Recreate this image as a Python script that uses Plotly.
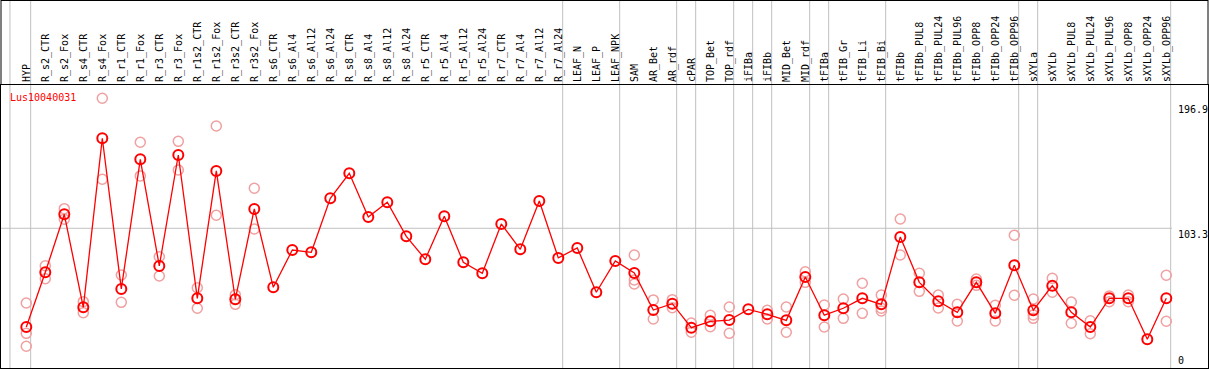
import plotly.graph_objects as go

categories = [
    "HYP", "R_s2_CTR", "R_s2_Fox", "R_s4_CTR", "R_s4_Fox", "R_r1_CTR", "R_r1_Fox",
    "R_r3_CTR", "R_r3_Fox", "R_r1s2_CTR", "R_r1s2_Fox", "R_r3s2_CTR", "R_r3s2_Fox",
    "R_s6_CTR", "R_s6_Al4", "R_s6_Al12", "R_s6_Al24", "R_s8_CTR", "R_s8_Al4",
    "R_s8_Al12", "R_s8_Al24", "R_r5_CTR", "R_r5_Al4", "R_r5_Al12", "R_r5_Al24",
    "R_r7_CTR", "R_r7_Al4", "R_r7_Al12", "R_r7_Al24", "LEAF_N", "LEAF_P", "LEAF_NPK",
    "SAM", "AR_Bet", "AR_rdf", "cPAR", "TOP_Bet", "TOP_rdf", "iFIBa", "iFIBb",
    "MID_Bet", "MID_rdf", "tFIBa", "tFIB_Gr", "tFIB_Li", "tFIB_Bi", "tFIBb",
    "tFIBb_PUL8", "tFIBb_PUL24", "tFIBb_PUL96", "tFIBb_OPP8", "tFIBb_OPP24",
    "tFIBb_OPP96", "sXYLa", "sXYLb", "sXYLb_PUL8", "sXYLb_PUL24", "sXYLb_PUL96",
    "sXYLb_OPP8", "sXYLb_OPP24", "sXYLb_OPP96",
]

mean_values = [
    29.7, 70.5, 113.7, 44.4, 170.4, 58.1, 154.7, 75.2, 157.9, 51.1, 146.0, 50.4, 117.7,
    59.3, 87.1, 85.4, 125.6, 144.3, 111.7, 122.7, 97.3, 80.2, 112.2, 77.9, 69.8,
    106.5, 87.6, 123.6, 81.2, 88.6, 55.6, 78.9,
    70.0, 42.4, 47.1, 29.2, 34.0, 34.9, 42.9, 39.2, 34.7, 67.0, 38.5, 43.7, 51.1, 46.6,
    96.8, 63.0, 48.9, 40.7, 63.0, 39.9, 75.7, 42.2, 60.5, 40.7, 29.7, 51.1, 51.1, 20.6, 51.1,
]

replicates = [
    [47.6, 25.0, 15.4], [75.4, 65.7], [117.9, 110.0], [48.6, 40.4], [200.2, 139.8],
    [68.5, 48.1], [167.4, 142.3], [82.1, 67.7], [168.1, 146.7], [59.0, 43.7],
    [179.5, 113.0], [53.8, 46.6], [133.1, 102.8],
    [], [], [], [], [], [], [], [], [], [], [], [], [], [], [], [], [], [], [],
    [83.4, 64.8, 61.8], [49.9, 35.7], [50.1, 44.1], [32.7, 25.8], [38.5, 30.0],
    [44.6, 25.0], [], [42.2, 35.7], [44.6, 25.8], [70.9, 63.0], [46.1, 29.7],
    [50.6, 36.2], [62.3, 39.9], [53.6, 43.7, 41.7], [110.2, 83.4], [69.8, 56.3],
    [53.6, 43.9], [46.6, 34.2], [65.5, 60.8], [45.9, 34.2], [98.1, 53.4],
    [50.6, 38.7, 36.2], [66.0, 55.6], [48.4, 32.5], [34.4, 24.7], [52.8, 48.6],
    [53.6, 48.6], [], [68.3, 34.0],
]

series_name = "Lus10040031"
right_labels = [196.9, 103.3, 0]
group_ends = ["HYP", "R_r7_Al24", "LEAF_NPK", "AR_rdf", "cPAR", "TOP_rdf", "iFIBa",
              "iFIBb", "MID_rdf", "tFIBa", "tFIB_Bi", "tFIBb_OPP96", "sXYLa", "sXYLb_OPP96"]

W, H = 1209, 370
ML, MR, MT, MB = 1, 1, 85, 2
plot_h = H - MT - MB
plot_w = W - ML - MR

rx, ry = [], []
for c, reps in zip(categories, replicates):
    for r in reps:
        rx.append(c)
        ry.append(r)

fig = go.Figure()
fig.add_trace(go.Scatter(
    x=rx, y=ry, mode="markers", hoverinfo="skip",
    marker=dict(symbol="circle-open", size=10, color="#f0a0a0", line=dict(width=1.5)),
    showlegend=False,
))
fig.add_trace(go.Scatter(
    x=categories, y=mean_values, mode="lines+markers", name=series_name,
    line=dict(color="#ff0000", width=1.3),
    marker=dict(symbol="circle-open", size=10, color="#ff0000", line=dict(width=2)),
    showlegend=False,
))

step = 19.0
x0 = (ML - 26.3) / step
x1 = x0 + plot_w / step
y_top_px, y_bot_px = MT, H - MB
scale = 1.342
zero_px = 366.9
y0 = (zero_px - y_bot_px) / scale
y1 = (zero_px - y_top_px) / scale

fig.update_xaxes(
    type="category", categoryorder="array", categoryarray=categories,
    range=[x0, x1], side="top", tickangle=-90, ticks="",
    tickfont=dict(family="DejaVu Sans Mono", size=10, color="black"),
    showgrid=False, zeroline=False, showline=True, mirror=True,
    linecolor="black", linewidth=1, fixedrange=True,
)
fig.update_yaxes(
    range=[y0, y1], showticklabels=False, showgrid=False, zeroline=False,
    showline=True, mirror=True, linecolor="black", linewidth=1, fixedrange=True,
)

def ppy(py):
    return (y_bot_px - py) / plot_h

def ppx(px):
    return (px - ML) / plot_w

shapes = []
sep_positions = [-0.86] + [categories.index(c) + 0.23 for c in group_ends]
for p in sep_positions:
    shapes.append(dict(type="line", xref="x", yref="paper", x0=p, x1=p,
                       y0=0, y1=ppy(0), line=dict(color="#c0c0c0", width=1), layer="below"))
shapes.append(dict(type="line", xref="paper", yref="y", x0=0, x1=ppx(1172),
                   y0=103.3, y1=103.3, line=dict(color="#c0c0c0", width=1), layer="below"))
# outer frame above the plot area
shapes.append(dict(type="line", xref="paper", yref="paper", x0=0, x1=1,
                   y0=ppy(0.5), y1=ppy(0.5), line=dict(color="black", width=1)))
shapes.append(dict(type="line", xref="paper", yref="paper", x0=0, x1=0,
                   y0=1, y1=ppy(0), line=dict(color="black", width=1)))
shapes.append(dict(type="line", xref="paper", yref="paper", x0=1, x1=1,
                   y0=1, y1=ppy(0), line=dict(color="black", width=1)))

annotations = [dict(
    text=series_name, xref="paper", yref="paper", x=ppx(9), y=ppy(91),
    xanchor="left", yanchor="top", showarrow=False, borderpad=0,
    font=dict(family="DejaVu Sans Mono", size=10, color="#ff0000"),
)]
for v in right_labels:
    annotations.append(dict(
        text=f"{v:g}", xref="paper", yref="y", x=ppx(1177), y=v,
        xanchor="left", yanchor="bottom" if v == 0 else "top", showarrow=False,
        borderpad=0, font=dict(family="DejaVu Sans Mono", size=10, color="black"),
    ))

fig.update_layout(
    width=W, height=H, margin=dict(l=ML, r=MR, t=MT, b=MB, pad=0),
    paper_bgcolor="white", plot_bgcolor="white",
    shapes=shapes, annotations=annotations, showlegend=False,
)

fig.write_html(
    "out.html",
    config={"displayModeBar": False, "staticPlot": True},
    post_script="document.body.style.margin='0px';document.body.style.overflow='hidden';",
)
